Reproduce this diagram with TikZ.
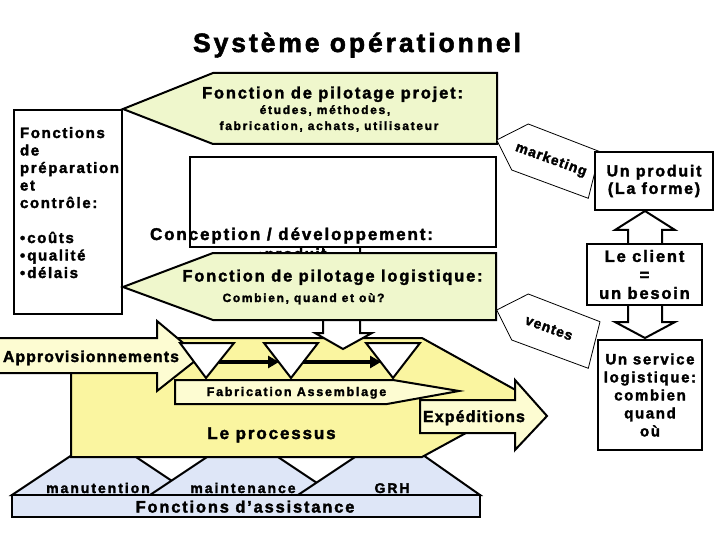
\documentclass[tikz,border=0pt]{standalone}
\usepackage{fontspec}
\setmainfont{Liberation Sans}
\newfontfamily\FAsp[LetterSpace=11,BoldFeatures={FakeBold=2}]{Liberation Sans}
\newfontfamily\FBsp[LetterSpace=14,BoldFeatures={FakeBold=2}]{Liberation Sans}
\newfontfamily\FCsp[LetterSpace=7,BoldFeatures={FakeBold=2}]{Liberation Sans}
\newcommand\fsz[2]{\fontsize{#1}{#2}\selectfont}
\usetikzlibrary{arrows.meta}
\definecolor{pgreen}{RGB}{239,247,204}
\definecolor{pyel}{RGB}{250,245,160}
\definecolor{lyel}{RGB}{253,252,210}
\definecolor{pblue}{RGB}{222,230,247}
\begin{document}
\begin{tikzpicture}[x=1pt,y=-1pt,
  outl/.style={draw=black,line width=2pt,line join=miter},
  thinl/.style={draw=black,line width=0.8pt},
  txt/.style={inner sep=0pt,outer sep=0pt},
  rbox/.style={draw=black,line width=2pt,fill=white,inner sep=0pt,align=center}]
\useasboundingbox (0,0) rectangle (720,540);
\fill[white] (0,0) rectangle (720,540);

% title
\node[txt,anchor=base,font=\FAsp\bfseries\fsz{26.5}{26.5}] (title) at (357,52) {Système opérationnel};

% left box
\draw[outl,fill=white] (14,110) rectangle (122,314);
\node[txt,anchor=base west,font=\FAsp\bfseries\fsz{15}{15}] (lb1) at (20,138) {Fonctions};
\node[txt,anchor=base west,font=\FAsp\bfseries\fsz{15}{15}] (lb2) at (20,155.5) {de};
\node[txt,anchor=base west,font=\FAsp\bfseries\fsz{15}{15}] (lb3) at (20,173) {préparation};
\node[txt,anchor=base west,font=\FAsp\bfseries\fsz{15}{15}] (lb4) at (20,190.5) {et};
\node[txt,anchor=base west,font=\FAsp\bfseries\fsz{15}{15}] (lb5) at (20,208) {contrôle:};
\node[txt,anchor=base west,font=\FAsp\bfseries\fsz{15}{15}] (lb6) at (20,243) {•\kern2pt coûts};
\node[txt,anchor=base west,font=\FAsp\bfseries\fsz{15}{15}] (lb7) at (20,260.5) {•\kern2pt qualité};
\node[txt,anchor=base west,font=\FAsp\bfseries\fsz{15}{15}] (lb8) at (20,278) {•\kern2pt délais};

% support functions
\draw[outl,fill=pblue] (12,495) -- (72,455) -- (133,455) -- (193,495) -- cycle;
\node[txt,anchor=base,font=\FBsp\bfseries\fsz{14}{14}] (manu) at (98,493) {manutention};
\draw[outl,fill=pblue] (150,495) -- (210,455) -- (275,455) -- (335,495) -- cycle;
\node[txt,anchor=base,font=\FBsp\bfseries\fsz{14}{14}] (maint) at (243,493) {maintenance};
\draw[outl,fill=pblue] (298,495) -- (358,455) -- (423,455) -- (480,495) -- cycle;
\node[txt,anchor=base,font=\FBsp\bfseries\fsz{14}{14}] (grh) at (392,493) {GRH};
\draw[outl,fill=pblue] (12,495) rectangle (480,517);
\node[txt,anchor=base,font=\FAsp\bfseries\fsz{16.5}{16.5}] (assist) at (245,512.5) {Fonctions d’assistance};

% process
\draw[outl,fill=pyel] (71,338) -- (422,338) -- (530,398) -- (422,457) -- (71,457) -- cycle;

% conception box and down arrow
\draw[outl,fill=white] (190,157) rectangle (496,247);
\draw[outl,fill=white] (323,248) -- (323,333) -- (315,333) -- (343,349) -- (372,333) -- (360,333) -- (360,248);
\node[txt,anchor=base,font=\FAsp\bfseries\fsz{17}{17}] (concep) at (291.5,240) {Conception / développement:};
\node[txt,anchor=base,font=\FAsp\bfseries\fsz{15}{15}] (prodtxt) at (292,259) {•\kern2pt produit};

% logistics pentagon
\draw[outl,fill=pgreen] (123,287) -- (213,253) -- (496,253) -- (496,320) -- (213,320) -- cycle;
\node[txt,anchor=base,font=\FAsp\bfseries\fsz{16.5}{16.5}] (logt) at (332.5,281.5) {Fonction de pilotage logistique:};
\node[txt,anchor=base,font=\FBsp\bfseries\fsz{12}{12}] (logs) at (303.5,302) {Combien, quand et où?};

% project pentagon
\draw[outl,fill=pgreen] (123,109) -- (213,73) -- (497,73) -- (497,144) -- (213,144) -- cycle;
\node[txt,anchor=base,font=\FAsp\bfseries\fsz{16.5}{16.5}] (projt) at (332.5,98.5) {Fonction de pilotage projet:};
\node[txt,anchor=base,font=\FBsp\bfseries\fsz{12}{12}] (proj1) at (325,114) {études, méthodes,};
\node[txt,anchor=base,font=\FBsp\bfseries\fsz{12}{12}] (proj2) at (329,130) {fabrication, achats, utilisateur};

% supply arrow
\draw[outl,fill=lyel] (-3,338) -- (157,338) -- (157,321) -- (200,357) -- (157,391) -- (157,373) -- (-3,373) -- cycle;
\node[txt,anchor=base west,font=\FCsp\bfseries\fsz{15.8}{15.8}] (appro) at (3,362) {Approvisionnements};

% triangles
\draw[outl,fill=white] (180,343) -- (234,343) -- (206,378) -- cycle;
\draw[outl,fill=white] (264,343) -- (318,343) -- (291,378) -- cycle;
\draw[outl,fill=white] (366,343) -- (420,343) -- (393,378) -- cycle;
\coordinate (a1s) at (219,362);
\coordinate (a1e) at (279,362);
\coordinate (a2s) at (303,362);
\coordinate (a2e) at (381,362);
\draw[line width=4pt,-{Triangle[length=11pt,width=12pt]}] (a1s) -- (a1e);
\draw[line width=4pt,-{Triangle[length=11pt,width=12pt]}] (a2s) -- (a2e);

% fabrication arrow
\draw[outl,fill=lyel] (175,380) -- (393,380) -- (459,391) -- (387,404) -- (175,404) -- cycle;
\node[txt,anchor=base,font=\FBsp\bfseries\fsz{12.5}{12.5}] (fab) at (296.5,396) {Fabrication Assemblage};

% shipping arrow
\draw[outl,fill=lyel] (420,400) -- (515,400) -- (515,380) -- (547,416) -- (515,450) -- (515,433) -- (420,433) -- cycle;
\node[txt,anchor=base west,font=\FCsp\bfseries\fsz{16}{16}] (exped) at (423,422) {Expéditions};

\node[txt,anchor=base,font=\FAsp\bfseries\fsz{17}{17}] (proc) at (271.5,439) {Le processus};

% tags
\draw[thinl,fill=white] (496.7,140) -- (528.3,124) -- (600,151.7) -- (588.3,198.3) -- (511.7,170) -- cycle;
\node[txt,rotate=-20,font=\FCsp\bfseries\fsz{14}{14}] (mkt) at (551,160) {marketing};
\draw[thinl,fill=white] (496.7,310) -- (528.3,294) -- (600,321.7) -- (588.3,368.3) -- (511.7,340) -- cycle;
\node[txt,rotate=-20,font=\FCsp\bfseries\fsz{14}{14}] (vent) at (549,328) {ventes};

% right column
\draw[outl,fill=white] (645,211) -- (675,230) -- (662,230) -- (662,322) -- (675,322) -- (645,338) -- (615,322) -- (628,322) -- (628,230) -- (615,230) -- cycle;
\node[rbox,minimum width=118pt,minimum height=58pt,font=\FAsp\bfseries\fsz{16}{17.5}] (prod) at (654,181) {Un produit\\(La forme)};
\node[rbox,minimum width=115pt,minimum height=61pt,font=\FAsp\bfseries\fsz{16.5}{18.5}] (client) at (644.5,274.5) {Le client\\=\\un besoin};
\node[rbox,minimum width=104pt,minimum height=110pt,font=\FAsp\bfseries\fsz{15}{18}] (serv) at (650,395) {Un service\\logistique:\\combien\\quand\\où};
\end{tikzpicture}
\end{document}
